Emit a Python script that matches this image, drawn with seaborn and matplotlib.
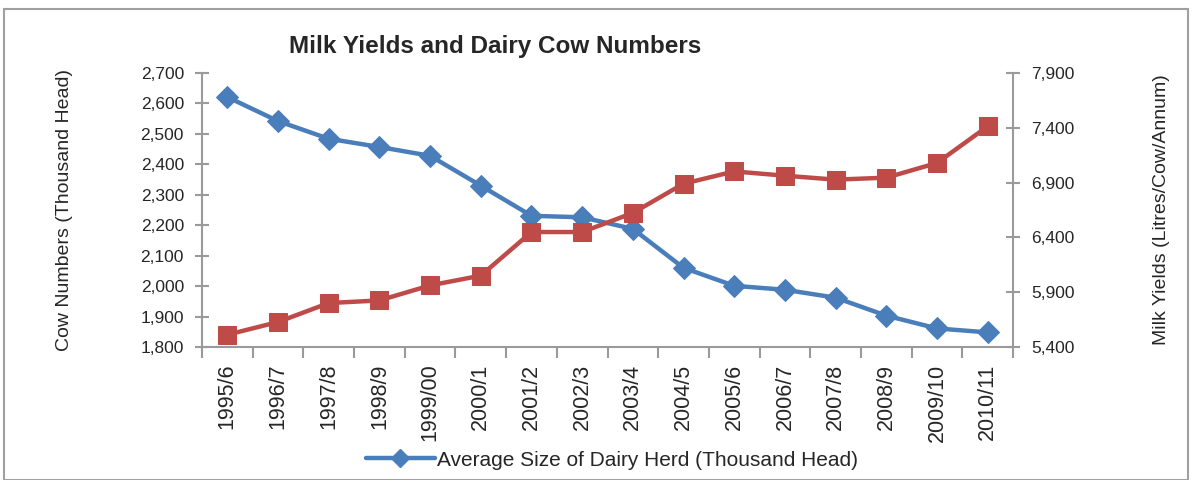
import matplotlib
matplotlib.use("Agg")
import matplotlib.pyplot as plt
import seaborn as sns
import numpy as np
import pandas as pd
from matplotlib.patches import Rectangle
from matplotlib.lines import Line2D

seasons = ["1995/6", "1996/7", "1997/8", "1998/9", "1999/00", "2000/1", "2001/2", "2002/3",
           "2003/4", "2004/5", "2005/6", "2006/7", "2007/8", "2008/9", "2009/10", "2010/11"]
herd = [2621, 2542, 2484, 2457, 2428, 2330, 2231, 2226, 2188, 2060, 2001, 1988, 1962, 1903, 1861, 1848]
yields = [5512, 5628, 5801, 5825, 5962, 6051, 6449, 6449, 6623, 6890, 7002, 6963, 6927, 6945, 7079, 7413]
left_ticks = [1800, 1900, 2000, 2100, 2200, 2300, 2400, 2500, 2600, 2700]
right_ticks = [5400, 5900, 6400, 6900, 7400, 7900]

sns.set_theme(style="white")
plt.rcParams['font.family'] = ['Liberation Sans', 'DejaVu Sans']

BLUE = "#4A7EBB"
RED = "#BE4B48"
GRAY = "#9A9A9A"

df = pd.DataFrame({"pos": np.arange(len(seasons)), "season": seasons, "herd": herd, "yield": yields})

fig = plt.figure(figsize=(11.92, 4.8), dpi=100)
ax = fig.add_axes([202/1192, 1 - 347/480, (1013-202)/1192, (347-73)/480])
ax2 = ax.twinx()

sns.lineplot(data=df, x="pos", y="herd", ax=ax, color=BLUE, linewidth=3.2,
             marker="D", markersize=11, markeredgecolor=BLUE, zorder=3)
sns.lineplot(data=df, x="pos", y="yield", ax=ax2, color=RED, linewidth=3.2,
             marker="s", markersize=13, markeredgecolor=RED, zorder=3)

ax.set_xlim(-0.5, len(seasons) - 0.5)
ax.set_ylim(1800, 2700)
ax2.set_ylim(5400, 7900)
ax.set_yticks(left_ticks)
ax.set_yticklabels([f"{v:,}" for v in left_ticks], fontsize=12.5)
ax2.set_yticks(right_ticks)
ax2.set_yticklabels([f"{v:,}" for v in right_ticks], fontsize=12.5)
ax.set_xticks(np.arange(len(seasons)))
ax.set_xticklabels(seasons, rotation=90, fontsize=15.5)
ax.set_xticks(np.arange(len(seasons) + 1) - 0.5, minor=True)

for a in (ax, ax2):
    a.grid(False)
    a.spines['top'].set_visible(False)
    for s in ('left', 'right', 'bottom'):
        a.spines[s].set_color(GRAY)
        a.spines[s].set_linewidth(1.5)
ax.spines['right'].set_visible(False)
ax2.spines['left'].set_visible(False)
ax2.spines['bottom'].set_visible(False)

ax.tick_params(axis='y', which='major', direction='inout', length=10, width=1.5, color=GRAY, left=True, pad=8)
ax2.tick_params(axis='y', which='major', direction='inout', length=10, width=1.5, color=GRAY, right=True, pad=8)
ax.tick_params(axis='x', which='major', length=0, pad=12)
ax.tick_params(axis='x', which='minor', direction='out', length=8, width=1.5, color=GRAY, bottom=True)

ax.set_xlabel("")
ax.set_ylabel("Cow Numbers (Thousand Head)", fontsize=14)
ax2.set_ylabel("Milk Yields (Litres/Cow/Annum)", fontsize=14)
ax.yaxis.set_label_coords((73 - 202) / 811, 0.5)
ax2.yaxis.set_label_coords((1153 - 202) / 811, 0.5)

fig.text(495/1192, 1 - 47/480, "Milk Yields and Dairy Cow Numbers", ha='center', va='center',
         fontsize=17.5, fontweight='bold')

handle = Line2D([], [], color=BLUE, linewidth=3.2, marker='D', markersize=9)
fig.legend(handles=[handle], labels=["Average Size of Dairy Herd (Thousand Head)"],
           loc='center', bbox_to_anchor=(612/1192, 1 - 460/480), frameon=False,
           prop={'size': 15}, handlelength=3.3, handletextpad=0.1)

fig.patches.append(Rectangle((4/1192, 0), 1184/1192, 1 - 9/480, transform=fig.transFigure,
                             fill=False, edgecolor="#A0A0A0", linewidth=1.5))

fig.savefig("out.png", dpi=100)
